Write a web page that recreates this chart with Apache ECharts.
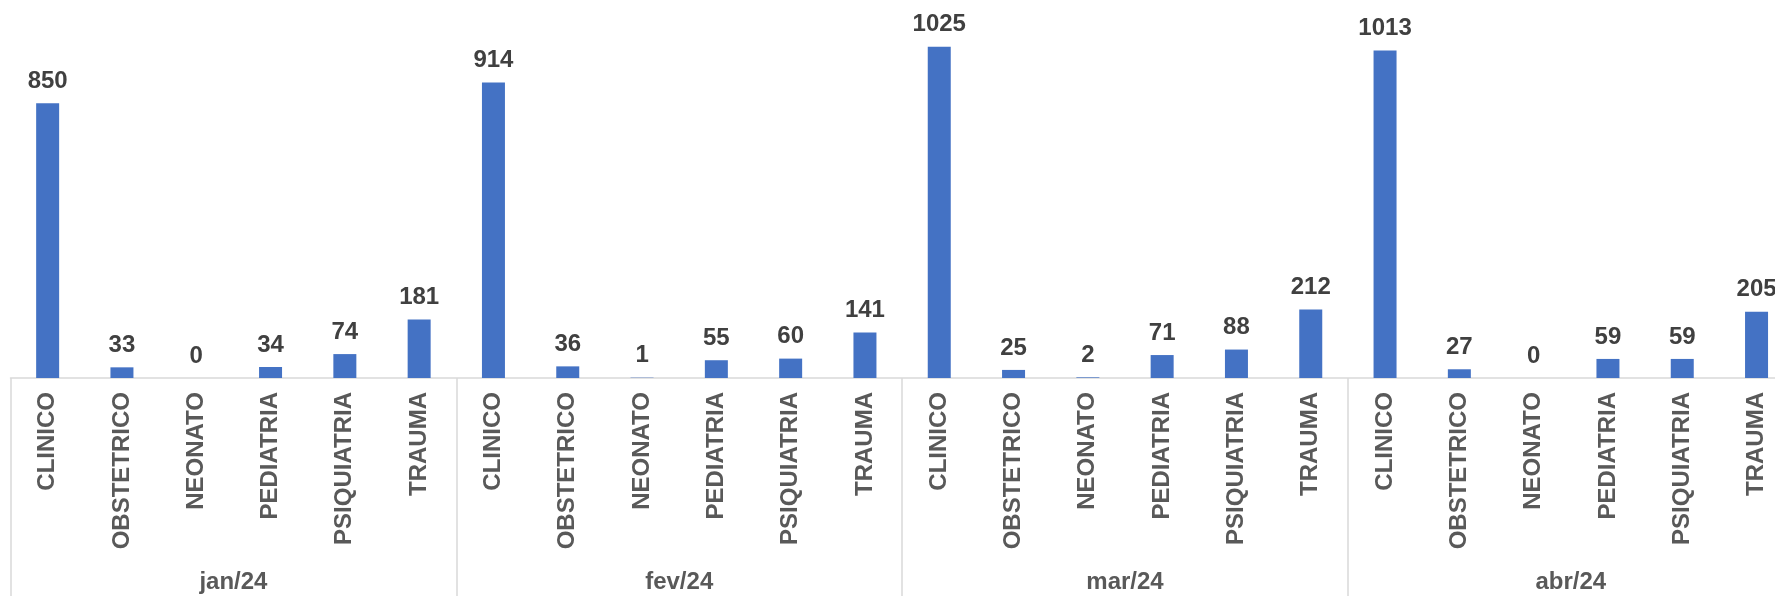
<!DOCTYPE html>
<html>
<head>
<meta charset="utf-8">
<script src="https://cdn.jsdelivr.net/npm/echarts@6/dist/echarts.min.js"></script>
<style>
  html, body { margin: 0; padding: 0; background: #ffffff; }
  #chart { width: 1775px; height: 596px; }
</style>
</head>
<body>
<div id="chart"></div>
<script>
var categories = ['CLINICO', 'OBSTETRICO', 'NEONATO', 'PEDIATRIA', 'PSIQUIATRIA', 'TRAUMA'];
var months = ['jan/24', 'fev/24', 'mar/24', 'abr/24'];
var valuesJan = [850, 33, 0, 34, 74, 181];
var valuesFev = [914, 36, 1, 55, 60, 141];
var valuesMar = [1025, 25, 2, 71, 88, 212];
var valuesAbr = [1013, 27, 0, 59, 59, 205];

var monthValues = [valuesJan, valuesFev, valuesMar, valuesAbr];
var xLabels = [];
var barData = [];
for (var m = 0; m < months.length; m++) {
  for (var c = 0; c < categories.length; c++) {
    xLabels.push(categories[c]);
    barData.push(monthValues[m][c]);
  }
}

var FONT = '"Liberation Sans", Arial, sans-serif';
var gridBox = { left: 10.5, width: 1783.2, top: 22.5, bottom: 218, containLabel: false, outerBoundsMode: 'none' };

var chart = echarts.init(document.getElementById('chart'), null, { renderer: 'canvas' });
chart.setOption({
  animation: false,
  backgroundColor: '#ffffff',
  grid: [
    Object.assign({}, gridBox),
    Object.assign({}, gridBox)
  ],
  xAxis: [
    {
      type: 'category',
      gridIndex: 0,
      data: xLabels,
      axisLine: { show: true, lineStyle: { color: '#d9d9d9', width: 1.5 } },
      axisTick: { show: false },
      axisLabel: {
        interval: 0,
        rotate: 90,
        margin: 14,
        color: '#595959',
        fontFamily: FONT,
        fontWeight: 'bold',
        fontSize: 24
      },
      splitLine: { show: false }
    },
    {
      type: 'category',
      gridIndex: 1,
      data: months,
      axisLine: { show: false },
      axisTick: { show: true, length: 218, lineStyle: { color: '#d9d9d9', width: 1.5 } },
      axisLabel: {
        interval: 0,
        margin: 192,
        color: '#595959',
        fontFamily: FONT,
        fontWeight: 'bold',
        fontSize: 24
      },
      splitLine: { show: false }
    }
  ],
  yAxis: [
    { type: 'value', gridIndex: 0, min: 0, max: 1100, show: false, splitLine: { show: false } },
    { type: 'value', gridIndex: 1, min: 0, max: 1, show: false, splitLine: { show: false } }
  ],
  series: [
    {
      type: 'bar',
      xAxisIndex: 0,
      yAxisIndex: 0,
      data: barData,
      barWidth: 23,
      itemStyle: { color: '#4472C4' },
      label: {
        show: true,
        position: 'top',
        distance: 10,
        color: '#404040',
        fontFamily: FONT,
        fontWeight: 'bold',
        fontSize: 24
      }
    }
  ]
});
</script>
</body>
</html>
